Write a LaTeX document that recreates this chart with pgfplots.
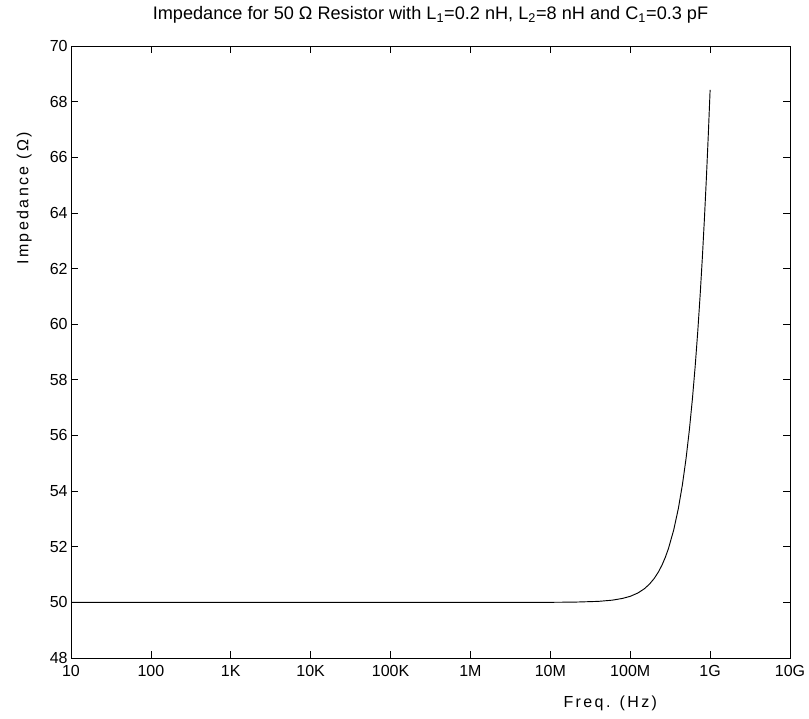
\documentclass[border=0pt]{standalone}
\usepackage{pgfplots}
\pgfplotsset{compat=1.18}
\usepackage{fontspec}
\setmainfont{Liberation Sans}
\begin{document}
\begin{tikzpicture}
\useasboundingbox (-53.25pt,-45pt) rectangle (553.5pt,493.5pt);
\begin{axis}[
  at={(0,0)}, anchor=south west,
  scale only axis,
  width=539.25pt, height=459pt,
  xmode=log,
  xmin=10, xmax=1e10,
  ymin=48, ymax=70,
  xtick={1e1,1e2,1e3,1e4,1e5,1e6,1e7,1e8,1e9,1e10},
  xticklabels={10,100,1K,10K,100K,1M,10M,100M,1G,10G},
  ytick={48,50,...,70},
  xminorticks=false,
  tick align=inside,
  tick pos=both,
  major tick length=5pt,
  axis line style={black, line width=0.6pt},
  every tick/.style={black, line width=0.5pt},
  /pgf/number format/assume math mode=true,
  ticklabel style={font=\fontsize{12}{14}\selectfont},
  xticklabel style={yshift=-2pt},
  yticklabel style={xshift=1pt},
  title={Impedance for 50 Ω Resistor with L\textsubscript{1}=0.2 nH, L\textsubscript{2}=8 nH and C\textsubscript{1}=0.3 pF},
  title style={font=\fontsize{13.6}{16}\selectfont, at={(axis description cs:0.5,1)}, anchor=base, yshift=14pt},
  xlabel={Freq. (Hz)},
  xlabel style={font=\fontsize{12}{14}\selectfont\addfontfeature{LetterSpace=15}, at={(axis description cs:0.75,-0.0735)}, anchor=center},
  ylabel={Impedance (Ω)},
  ylabel style={font=\fontsize{12}{14}\selectfont\addfontfeature{LetterSpace=15}, at={(axis description cs:-0.065,0.751)}, anchor=center, rotate=0},
]
\addplot[black, line width=0.7pt] coordinates {
(1e1,50.000) (1e6,50.000) (1e7,50.002) (2e7,50.009) (4e7,50.036) (6e7,50.080)
(8e7,50.142) (1e8,50.217) (1.25e8,50.339) (1.5e8,50.487) (1.75e8,50.662)
(2e8,50.863) (2.25e8,51.090) (2.5e8,51.342) (2.75e8,51.620) (3e8,51.922)
(3.5e8,52.600) (4e8,53.370) (4.5e8,54.230) (5e8,55.175) (5.5e8,56.202)
(6e8,57.307) (6.5e8,58.483) (7e8,59.728) (7.5e8,61.037) (8e8,62.407)
(8.5e8,63.833) (9e8,65.312) (9.5e8,66.841) (1e9,68.420)
};
\end{axis}
\end{tikzpicture}
\end{document}
